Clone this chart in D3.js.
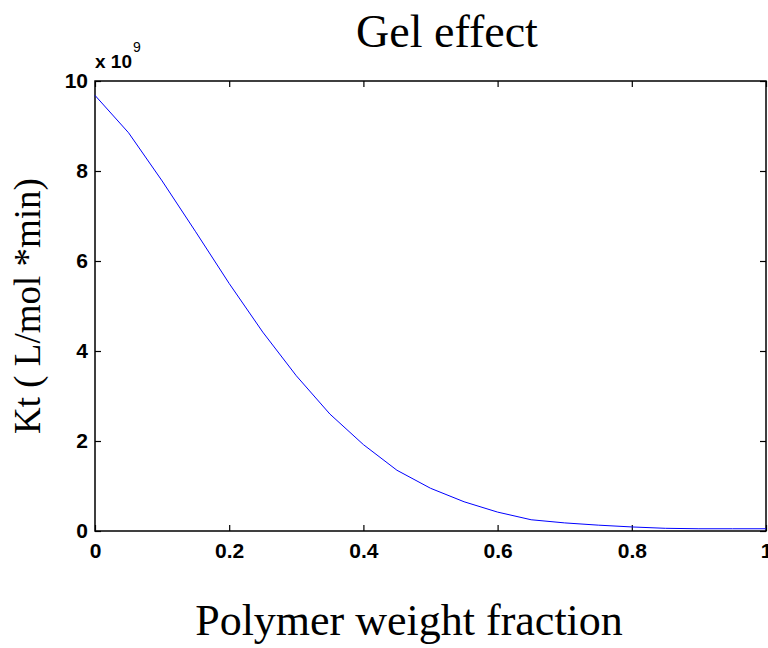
<!DOCTYPE html>
<html>
<head>
<meta charset="utf-8">
<script src="https://cdn.jsdelivr.net/npm/d3@7"></script>
<style>
html,body{margin:0;padding:0;background:#fff;overflow:hidden;}
svg{display:block;}
</style>
</head>
<body>
<svg id="chart" width="768" height="648"></svg>
<script>
// Data (Kt in units of 1e9 L/mol*min)
const fraction = [0,0.05,0.1,0.15,0.2,0.25,0.3,0.35,0.4,0.45,0.5,0.55,0.6,0.65,0.7,0.75,0.8,0.85,0.9,0.95,1.0];
const kt = [9.68,8.85,7.78,6.65,5.5,4.42,3.45,2.6,1.92,1.35,0.95,0.65,0.42,0.25,0.18,0.13,0.09,0.06,0.05,0.05,0.05];
const xTicks = [0,0.2,0.4,0.6,0.8,1];
const yTicks = [0,2,4,6,8,10];
const xTickLabels = ["0","0.2","0.4","0.6","0.8","1"];
const yTickLabels = ["0","2","4","6","8","10"];

const svg = d3.select("#chart");
const L = 95, R = 766, T = 81, B = 531;
const x = d3.scaleLinear().domain([0,1]).range([L,R]);
const y = d3.scaleLinear().domain([0,10]).range([B,T]);

// box
svg.append("rect").attr("x",L).attr("y",T).attr("width",R-L).attr("height",B-T)
  .attr("fill","none").attr("stroke","#000").attr("stroke-width",1.5);

const tickFont = "bold 21px 'Liberation Sans', Arial, sans-serif";
const tl = 6;
// bottom axis
const xb = svg.append("g").attr("transform",`translate(0,${B})`)
  .call(d3.axisBottom(x).tickValues(xTicks).tickSizeInner(-tl).tickSizeOuter(0).tickPadding(12)
    .tickFormat((d,i)=>xTickLabels[i]));
// top axis
const xt = svg.append("g").attr("transform",`translate(0,${T})`)
  .call(d3.axisTop(x).tickValues(xTicks).tickSizeInner(-tl).tickSizeOuter(0).tickFormat(""));
// left axis
const yl = svg.append("g").attr("transform",`translate(${L},0)`)
  .call(d3.axisLeft(y).tickValues(yTicks).tickSizeInner(-tl).tickSizeOuter(0).tickPadding(7)
    .tickFormat((d,i)=>yTickLabels[i]));
// right axis
const yr = svg.append("g").attr("transform",`translate(${R},0)`)
  .call(d3.axisRight(y).tickValues(yTicks).tickSizeInner(-tl).tickSizeOuter(0).tickFormat(""));

[xb,xt,yl,yr].forEach(g=>{
  g.select(".domain").remove();
  g.selectAll(".tick line").attr("stroke","#000").attr("stroke-width",1.2);
  g.selectAll(".tick text").style("font",tickFont).attr("fill","#000");
});

// exponent
const ex = svg.append("text").attr("x",L).attr("y",68)
  .style("font","bold 19px 'Liberation Sans', Arial, sans-serif").attr("fill","#000");
ex.append("tspan").text("x 10");
ex.append("tspan").attr("x",L+38).attr("y",52).style("font","14px 'Liberation Sans', Arial, sans-serif").text("9");

// line
const line = d3.line().x((d,i)=>x(fraction[i])).y(d=>y(d));
svg.append("path").datum(kt).attr("d",line).attr("fill","none")
  .attr("stroke","#0000ff").attr("stroke-width",1);

// titles
const serif = "'Liberation Serif','Times New Roman',serif";
svg.append("text").attr("x",447).attr("y",47).attr("text-anchor","middle")
  .style("font-family",serif).style("font-size","46px").text("Gel effect");
svg.append("text").attr("x",409).attr("y",635).attr("text-anchor","middle")
  .style("font-family",serif).style("font-size","44px").text("Polymer weight fraction");
svg.append("text").attr("transform","translate(40,306) rotate(-90)").attr("text-anchor","middle")
  .style("font-family",serif).style("font-size","37px").text("Kt ( L/mol *min)");
</script>
</body>
</html>
